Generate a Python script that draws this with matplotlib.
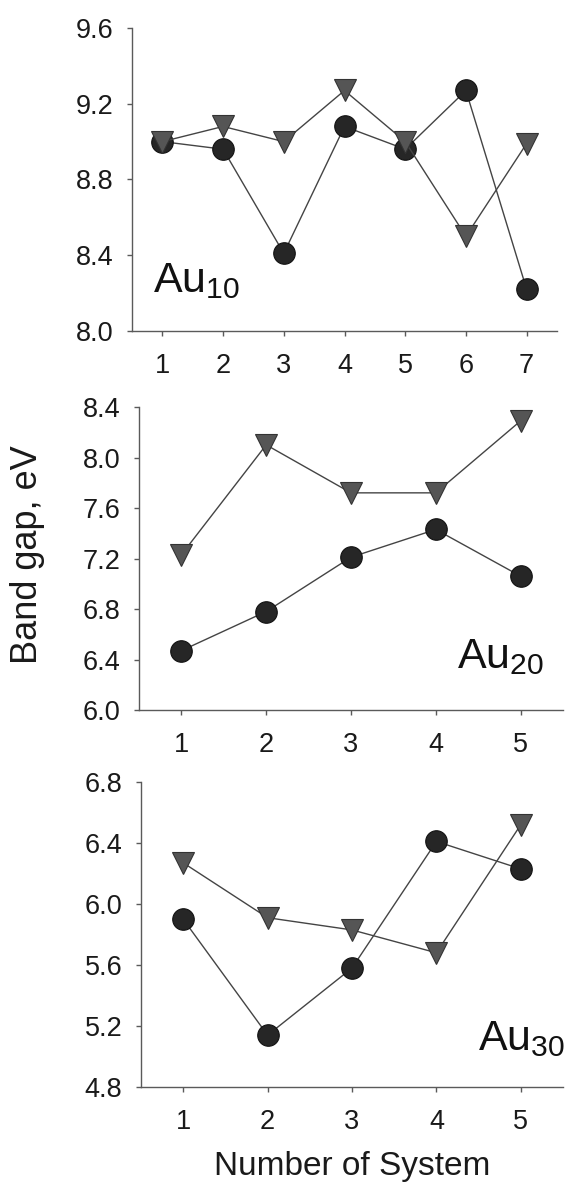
import matplotlib.pyplot as plt

plt.rcParams['font.family'] = ['Liberation Sans', 'DejaVu Sans']
plt.rcParams['mathtext.fontset'] = 'custom'
plt.rcParams['mathtext.rm'] = 'Liberation Sans'

### data
x10 = [1, 2, 3, 4, 5, 6, 7]
circ10 = [9.00, 8.96, 8.41, 9.08, 8.96, 9.27, 8.22]
tri10 = [9.00, 9.08, 9.00, 9.27, 9.00, 8.50, 8.99]

x20 = [1, 2, 3, 4, 5]
circ20 = [6.47, 6.78, 7.21, 7.43, 7.06]
tri20 = [7.23, 8.10, 7.72, 7.72, 8.29]

x30 = [1, 2, 3, 4, 5]
circ30 = [5.90, 5.14, 5.58, 6.41, 6.23]
tri30 = [6.27, 5.91, 5.83, 5.68, 6.52]

W, H = 566, 1189
fig = plt.figure(figsize=(W/100, H/100), dpi=100)

def box(left, top, right, bottom):
    return [left/W, 1-bottom/H, (right-left)/W, (bottom-top)/H]

panels = [
    (box(132, 28, 557, 331), x10, circ10, tri10, (8.0, 9.6), [8.0, 8.4, 8.8, 9.2, 9.6], '10', (0.049, 0.129)),
    (box(139, 407, 563, 710), x20, circ20, tri20, (6.0, 8.4), [6.0, 6.4, 6.8, 7.2, 7.6, 8.0, 8.4], '20', (0.749, 0.139)),
    (box(141, 782, 563, 1087), x30, circ30, tri30, (4.8, 6.8), [4.8, 5.2, 5.6, 6.0, 6.4, 6.8], '30', (0.799, 0.121)),
]

for rect, x, circ, tri, ylim, yticks, sub, pos in panels:
    ax = fig.add_axes(rect)
    ax.plot(x, circ, '-', color='#444444', lw=1.0, marker='o', ms=15.5,
            mfc='#262626', mec='#111111', mew=0.8, zorder=3)
    ax.plot(x, tri, '-', color='#444444', lw=1.0, marker='v', ms=16,
            mfc='#555555', mec='#333333', mew=0.8, zorder=4)
    ax.set_xlim(0.5, len(x) + 0.5)
    ax.set_ylim(*ylim)
    ax.set_xticks(x)
    ax.set_yticks(yticks)
    ax.set_yticklabels(['%.1f' % v for v in yticks])
    for s in ['top', 'right']:
        ax.spines[s].set_visible(False)
    for s in ['left', 'bottom']:
        ax.spines[s].set_color('#5a5a5a')
        ax.spines[s].set_linewidth(1.0)
    ax.tick_params(axis='both', direction='out', length=3.5, width=1.0,
                   color='#5a5a5a', labelsize=19.5, labelcolor='#1a1a1a')
    ax.tick_params(axis='x', pad=12)
    ax.tick_params(axis='y', pad=10)
    ax.text(pos[0], pos[1], r'$\mathregular{Au_{%s}}$' % sub, transform=ax.transAxes,
            fontsize=31, ha='left', va='baseline', color='#111111')

fig.text(37/W, 1-555/H, 'Band gap, eV', rotation=90, rotation_mode='anchor',
         ha='center', va='baseline', fontsize=26, color='#1a1a1a')
fig.text(352/W, 1-1175/H, 'Number of System', ha='center', va='baseline',
         fontsize=24, color='#1a1a1a')

fig.savefig('out.png', dpi=100)
